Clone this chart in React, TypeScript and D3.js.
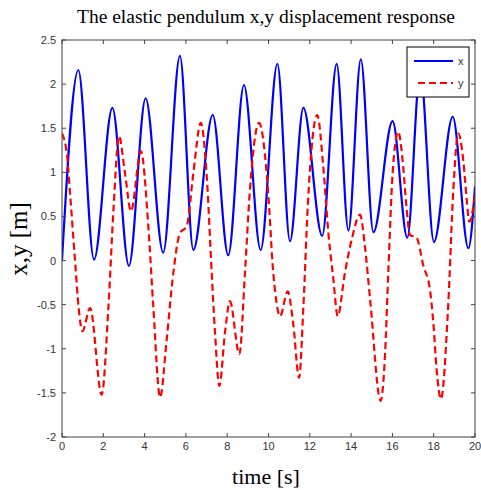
import React from "react";
import * as d3 from "d3";

const xTicks = [0, 2, 4, 6, 8, 10, 12, 14, 16, 18, 20];
const yTicks = [-2, -1.5, -1, -0.5, 0, 0.5, 1, 1.5, 2, 2.5];

const xTime = [0, 0.79, 1.55, 2.44, 3.24, 4.05, 4.9, 5.71, 6.36, 7.3, 8.05, 8.81, 9.62, 10.43, 11.04, 11.69, 12.6, 13.3, 13.87, 14.47, 15.08, 16.01, 16.72, 17.35, 18.01, 18.92, 19.68, 20];
const xDisp = [0, 2.16, 0.01, 1.73, -0.06, 1.84, 0.09, 2.32, 0.12, 1.65, 0.06, 1.99, 0.12, 2.23, 0.22, 1.73, 0.28, 2.23, 0.34, 2.28, 0.32, 1.58, 0.26, 2.15, 0.21, 1.63, 0.14, 0.84];

const yTime = [0, 0.25, 0.4, 0.65, 0.8, 0.99, 1.36, 1.92, 2.25, 2.5, 2.76, 3.05, 3.34, 3.82, 4.18, 4.42, 4.75, 5.07, 5.39, 5.71, 6.04, 6.36, 6.72, 7.0, 7.25, 7.41, 7.62, 7.9, 8.13, 8.59, 8.86, 9.1, 9.54, 9.91, 10.07, 10.17, 10.33, 10.56, 10.93, 11.2, 11.48, 11.69, 11.9, 12.36, 12.65, 12.9, 13.14, 13.35, 13.7, 14.03, 14.43, 14.67, 14.92, 15.43, 15.64, 15.8, 16.01, 16.28, 16.52, 16.68, 16.85, 17.17, 17.5, 17.82, 17.98, 18.14, 18.35, 18.7, 18.95, 19.19, 19.43, 19.6, 19.72, 20];
const yDisp = [1.44, 1.18, 0.73, -0.06, -0.52, -0.8, -0.54, -1.52, -0.52, 0.61, 1.41, 0.99, 0.56, 1.24, 0.39, -0.52, -1.55, -0.89, -0.14, 0.31, 0.39, 0.99, 1.56, 0.99, -0.14, -0.82, -1.42, -0.8, -0.46, -1.06, -0.14, 0.8, 1.56, 0.99, 0.46, 0.05, -0.37, -0.63, -0.35, -0.72, -1.33, -0.52, 0.61, 1.65, 1.07, 0.31, -0.21, -0.63, -0.14, 0.24, 0.52, 0.16, -0.44, -1.59, -1.08, -0.14, 0.99, 1.46, 1.07, 0.61, 0.29, 0.26, -0.06, -0.33, -0.7, -1.23, -1.57, -0.52, 0.8, 1.44, 1.14, 0.69, 0.44, 0.73];

const W = 481;
const H = 490;
const L = 62, R = 475, T = 40, B = 437;

export default function App() {
  const x = d3.scaleLinear().domain([0, 20]).range([L, R]);
  const y = d3.scaleLinear().domain([-2, 2.5]).range([B, T]);
  const line = d3
    .line<[number, number]>()
    .x((d) => x(d[0]))
    .y((d) => y(d[1]))
    .curve(d3.curveMonotoneX);
  const xPts = xTime.map((t, i) => [t, xDisp[i]] as [number, number]);
  const yPts = yTime.map((t, i) => [t, yDisp[i]] as [number, number]);
  const axisColor = "#404040";
  const tickFont = "'Liberation Sans', Arial, sans-serif";
  const serif = "'Liberation Serif', 'Times New Roman', serif";
  return (
    <svg width={W} height={H} style={{ position: "absolute", left: 0, top: 0, background: "#fff" }}>
      <rect x={0} y={0} width={W} height={H} fill="#fff" />
      <defs>
        <clipPath id="plotclip">
          <rect x={L} y={T} width={R - L} height={B - T} />
        </clipPath>
      </defs>
      <text x={266} y={23} textAnchor="middle" fontFamily={serif} fontSize={19.5} fill="#000">
        The elastic pendulum x,y displacement response
      </text>
      <g clipPath="url(#plotclip)">
        <path d={line(xPts) || ""} fill="none" stroke="#0000ff" strokeWidth={2.2} />
        <path d={line(yPts) || ""} fill="none" stroke="#ff0000" strokeWidth={2.2} strokeDasharray="7,4" />
      </g>
      <rect x={L} y={T} width={R - L} height={B - T} fill="none" stroke={axisColor} strokeWidth={1} />
      {xTicks.map((t) => (
        <g key={"xt" + t}>
          <line x1={x(t)} x2={x(t)} y1={B} y2={B - 4} stroke={axisColor} />
          <line x1={x(t)} x2={x(t)} y1={T} y2={T + 4} stroke={axisColor} />
          <text x={x(t)} y={450} textAnchor="middle" fontFamily={tickFont} fontSize={11} fill="#333">
            {t}
          </text>
        </g>
      ))}
      {yTicks.map((v) => (
        <g key={"yt" + v}>
          <line x1={L} x2={L + 4} y1={y(v)} y2={y(v)} stroke={axisColor} />
          <line x1={R} x2={R - 4} y1={y(v)} y2={y(v)} stroke={axisColor} />
          <text x={56} y={y(v) + 4} textAnchor="end" fontFamily={tickFont} fontSize={11} fill="#333">
            {v}
          </text>
        </g>
      ))}
      <g>
        <rect x={407} y={47} width={62} height={50} fill="#fff" stroke="#000" strokeWidth={1} />
        <line x1={414} x2={453} y1={61} y2={61} stroke="#0000ff" strokeWidth={2} />
        <text x={458} y={65} fontFamily={tickFont} fontSize={11} fill="#333">x</text>
        <line x1={418} x2={453} y1={83} y2={83} stroke="#ff0000" strokeWidth={2} strokeDasharray="7,4" />
        <text x={458} y={87} fontFamily={tickFont} fontSize={11} fill="#333">y</text>
      </g>
      <text x={266} y={484} textAnchor="middle" fontFamily={serif} fontSize={22} fill="#000">
        time [s]
      </text>
      <text
        transform={`translate(27, 239) rotate(-90)`}
        textAnchor="middle"
        fontFamily={serif}
        fontSize={25}
        fill="#000"
      >
        x,y [m]
      </text>
    </svg>
  );
}
